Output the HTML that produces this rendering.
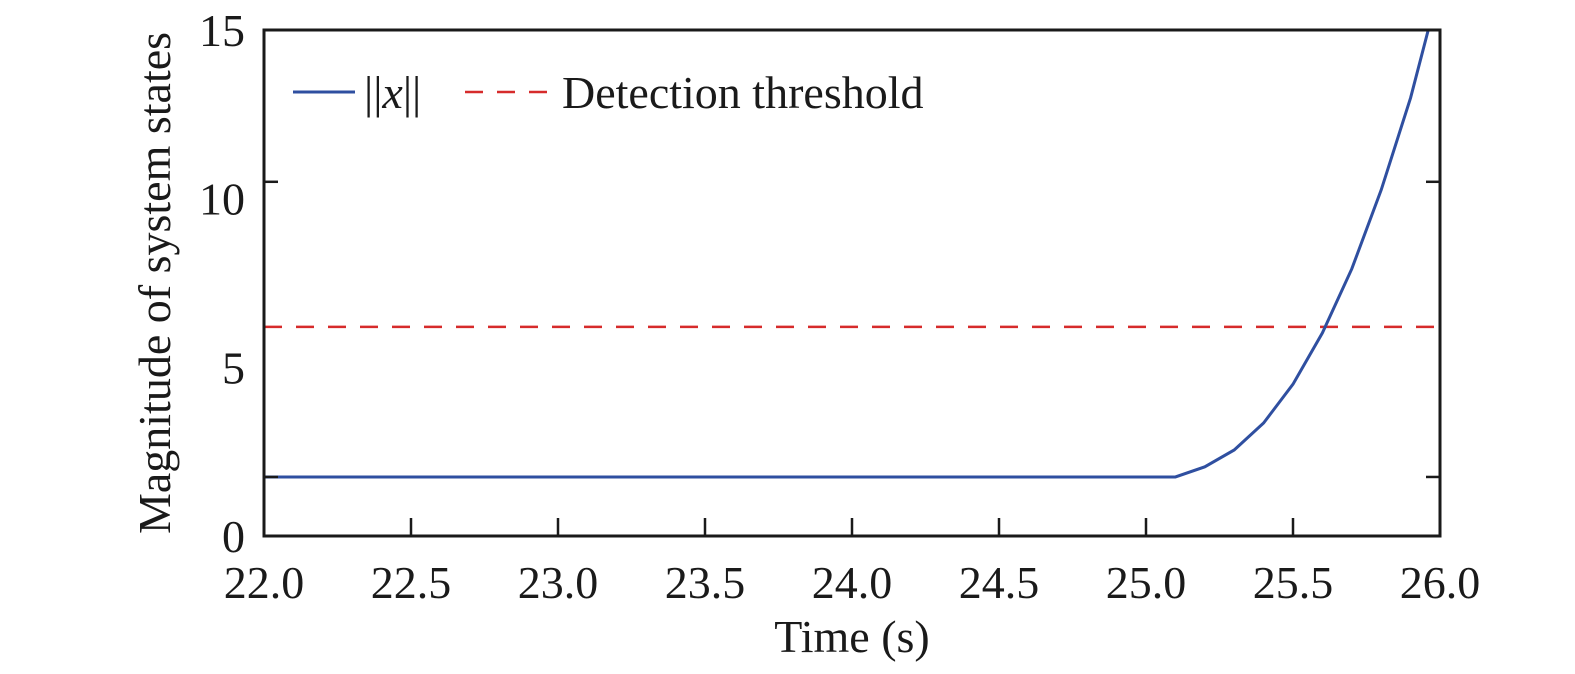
<!DOCTYPE html>
<html><head><meta charset="utf-8"><style>
body{margin:0;background:#fff}
svg text{font-family:"Liberation Serif",serif;fill:#1a1a1a}
</style></head><body>
<svg id="c" width="1575" height="669"></svg>
<script>
const xTicks=[22.0,22.5,23.0,23.5,24.0,24.5,25.0,25.5,26.0];
const yLabels=[0,5,10,15];
const yTickMarks=[1.75,10.5];
const seriesX=[22.0,25.1,25.2,25.3,25.4,25.5,25.6,25.7,25.8,25.9,25.96];
const seriesY=[1.75,1.75,2.05,2.55,3.35,4.5,6.02,7.92,10.26,12.99,15.0];
const threshold=[6.2];
const L=264,R=1440,T=30,B=536;
const sx=v=>L+(v-22)/4*(R-L);
const sy=v=>B-v/15*(B-T);
const svg=document.getElementById('c');
const NS='http://www.w3.org/2000/svg';
function mk(t,a,p){const e=document.createElementNS(NS,t);for(const k in a)e.setAttribute(k,a[k]);(p||svg).appendChild(e);return e;}
let th=mk('line',{x1:L,x2:R,y1:sy(threshold[0]),y2:sy(threshold[0]),stroke:'#d62b2b','stroke-width':2.5,'stroke-dasharray':'18 14'});


let pts=seriesX.map((x,i)=>sx(x)+','+sy(seriesY[i])).join(' ');
let pl=mk('polyline',{points:pts,fill:'none',stroke:'#2f4fa0','stroke-width':3});


let fr=mk('rect',{x:L,y:T,width:R-L,height:B-T,fill:'none',stroke:'#1a1a1a','stroke-width':3});


xTicks.forEach(v=>{
 let t=mk('line',{x1:sx(v),x2:sx(v),y1:B,y2:B-18,stroke:'#1a1a1a','stroke-width':2.5});
 
 
 let tx=mk('text',{x:sx(v),y:598,'font-size':46,'text-anchor':'middle'});
 tx.textContent=v.toFixed(1);
 
 
});
yTickMarks.forEach(v=>{
 [[L,L+14],[R,R-14]].forEach(([a,b])=>{
 let t=mk('line',{x1:a,x2:b,y1:sy(v),y2:sy(v),stroke:'#1a1a1a','stroke-width':2.5});
 
 
 });
});
yLabels.forEach(v=>{
 let tx=mk('text',{x:245,y:sy(v)+16,'font-size':46,'text-anchor':'end'});
 tx.textContent=v;
 
 
});
let xt=mk('text',{x:852,y:652,'font-size':46,'text-anchor':'middle'});
xt.textContent='Time (s)';


let yt=mk('text',{x:0,y:0,'font-size':46,'text-anchor':'middle',transform:'translate(170,283) rotate(-90)'});
yt.textContent='Magnitude of system states';


let g=mk('g',{});


mk('line',{x1:293,x2:355,y1:92,y2:92,stroke:'#2f4fa0','stroke-width':3},g);
let l1=mk('text',{x:364,y:108,'font-size':46},g);
l1.innerHTML='||<tspan font-style="italic">x</tspan>||';


mk('line',{x1:465,x2:553,y1:92,y2:92,stroke:'#d62b2b','stroke-width':2.5,'stroke-dasharray':'18 14'},g);
let l2=mk('text',{x:562,y:108,'font-size':46},g);
l2.textContent='Detection threshold';


</script>
</body></html>
